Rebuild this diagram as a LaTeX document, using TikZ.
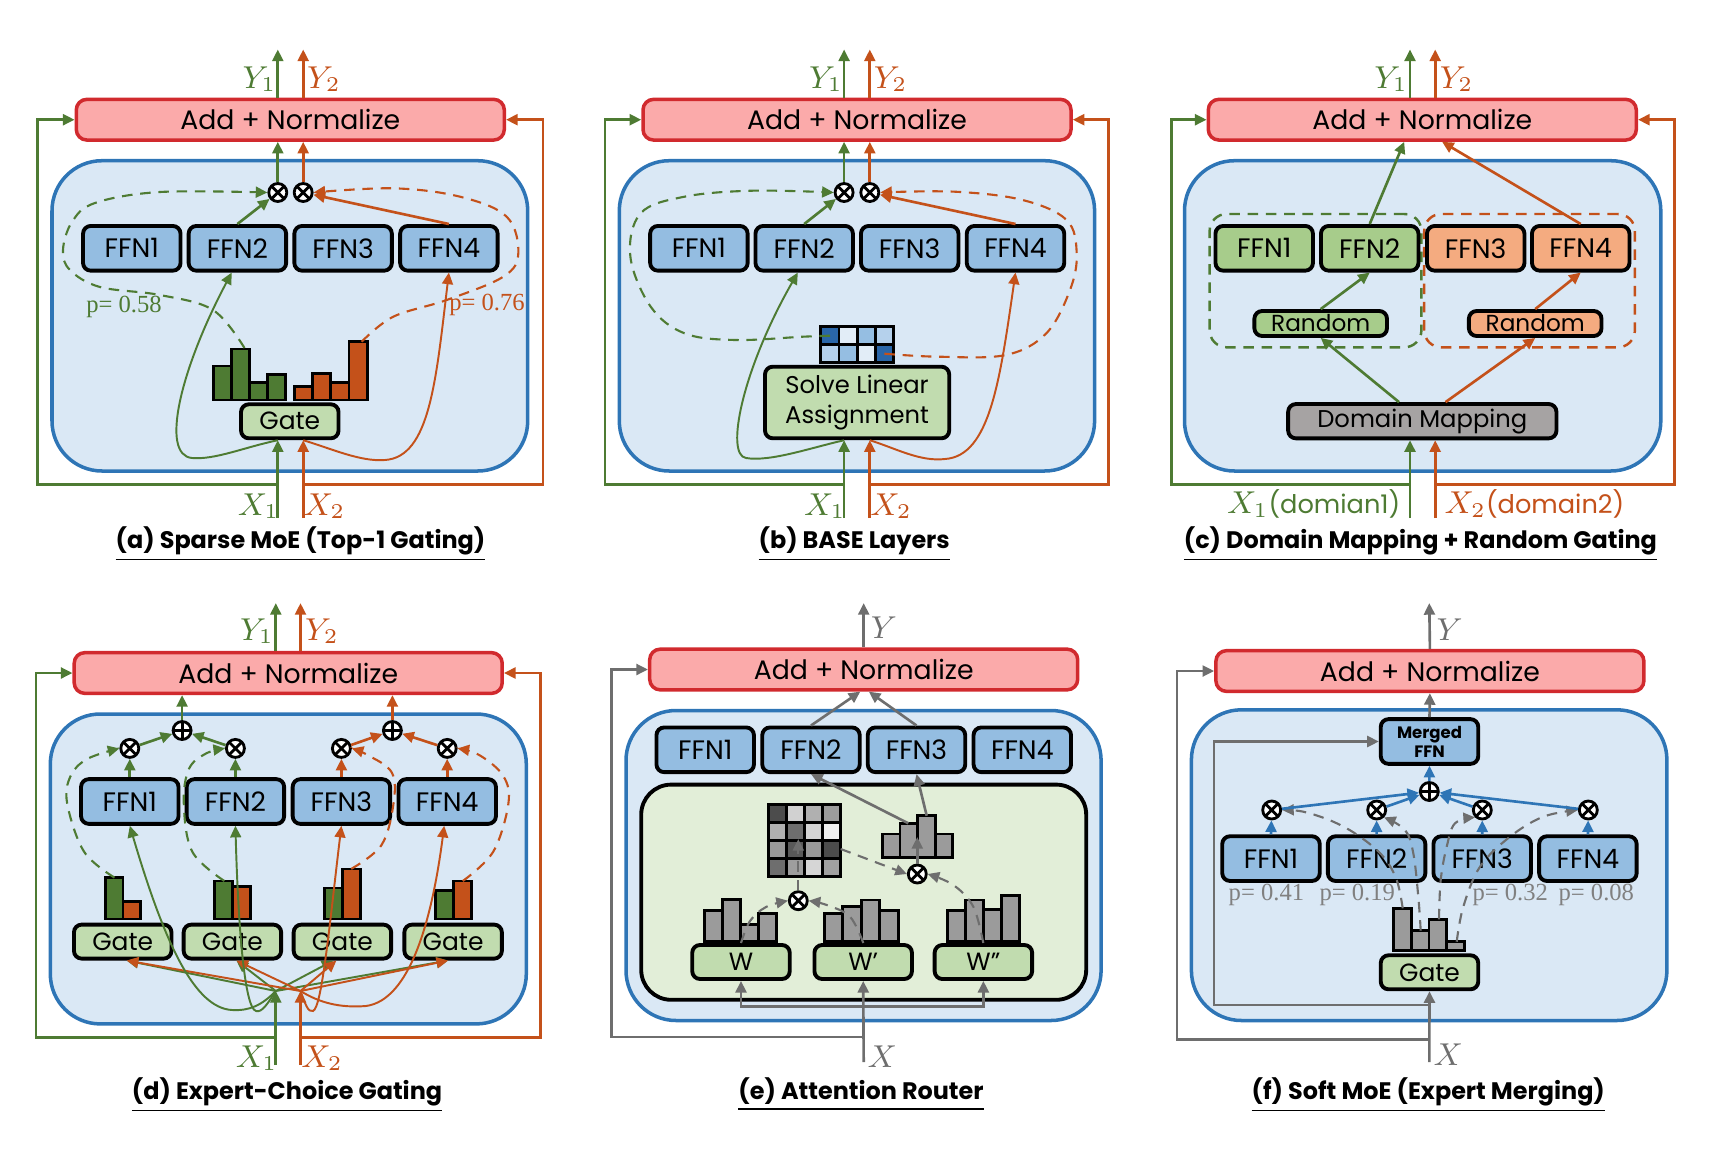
\documentclass[tikz,border=0pt]{standalone}
\usepackage[no-math]{fontspec}
\setmainfont{Poppins}
\newfontfamily\pfont{Liberation Serif}
\usetikzlibrary{arrows.meta,calc}
\definecolor{normfill}{HTML}{FBAAAA}
\definecolor{normline}{HTML}{D12A2E}
\definecolor{moefill}{HTML}{DAE8F5}
\definecolor{moeline}{HTML}{2E75B6}
\definecolor{ffnfill}{HTML}{94BDE1}
\definecolor{gatefill}{HTML}{C1DCAF}
\definecolor{tokgreen}{HTML}{4E7B33}
\definecolor{tokorange}{HTML}{C4511A}
\definecolor{ffngreen}{HTML}{A7CC8B}
\definecolor{ffnorange}{HTML}{F4AB80}
\definecolor{mapgray}{HTML}{A6A3A3}
\definecolor{wire}{HTML}{6E6E6E}
\definecolor{probgray}{HTML}{808080}
\definecolor{bargray}{HTML}{9B9B9B}
\definecolor{routefill}{HTML}{E2EED8}
\definecolor{mdark}{HTML}{2A66A8}
\definecolor{mwhite}{HTML}{E2EDF7}
\definecolor{mlight}{HTML}{95BEE2}
\definecolor{mpale}{HTML}{B5D1EC}
\tikzset{
  addnorm/.style={draw=normline,fill=normfill,line width=1pt,rounded corners=3pt,minimum width=42.8mm,minimum height=4.07mm,inner sep=0pt,font=\fontsize{7.6}{8}\selectfont},
  moebox/.style={draw=moeline,fill=moefill,line width=1pt,rounded corners=5mm,inner sep=0pt},
  ffn/.style={draw=black,fill=ffnfill,line width=1.1pt,rounded corners=2.2pt,minimum width=9.75mm,minimum height=4.47mm,inner sep=0pt,font=\fontsize{7.6}{8}\selectfont},
  gate/.style={ffn,fill=gatefill,minimum height=3.4mm,font=\fontsize{7.1}{8}\selectfont},
  circ/.style={circle,draw=black,fill=white,line width=0.8pt,minimum size=1.8mm,inner sep=0pt},
  mul/.style={circ,path picture={\draw[line width=0.8pt] (path picture bounding box.north west) -- (path picture bounding box.south east) (path picture bounding box.north east) -- (path picture bounding box.south west);}},
  sum/.style={circ,path picture={\draw[line width=0.8pt] (path picture bounding box.north) -- (path picture bounding box.south) (path picture bounding box.east) -- (path picture bounding box.west);}},
  gbar/.style={draw=black,line width=0.8pt,fill=tokgreen},
  obar/.style={gbar,fill=tokorange},
  hbar/.style={gbar,fill=bargray},
  cell/.style={draw=black,line width=0.8pt},
  arr/.style={line width=0.75pt,-{Triangle[length=3.3pt,width=3.1pt]}},
  ga/.style={arr,draw=tokgreen},
  oa/.style={arr,draw=tokorange},
  wa/.style={arr,draw=wire},
  ba/.style={arr,draw=moeline},
  gc/.style={ga,line width=0.55pt},
  oc/.style={oa,line width=0.55pt},
  dsh/.style={dash pattern=on 3pt off 2.2pt,line width=0.6pt},
  gd/.style={ga,dsh},
  od/.style={oa,dsh},
  wd/.style={wa,dsh},
  grp/.style={dsh,line width=0.7pt,rounded corners=1.7mm,inner sep=0pt},
  tok/.style={inner sep=0pt,font=\fontsize{8.8}{9}\selectfont},
  prob/.style={inner sep=0pt,font=\pfont\fontsize{7}{8}\selectfont},
  captxt/.style={inner sep=0pt,anchor=base,font=\fontsize{6.8}{8}\selectfont\bfseries},
}
\begin{document}
\begin{tikzpicture}[x=0.1mm,y=-0.1mm]
\useasboundingbox (0,0) rectangle (1710,1156);

% ---------- (a) Sparse MoE ----------
\node[moebox,minimum width=47.57mm,minimum height=31.03mm] (aMoE) at (289.85,315.85) {};
\node[addnorm] (aAdd) at (290.3,119.7) {Add + Normalize};
\foreach \i/\x in {1/131.8,2/237.4,3/343.1,4/448.9}
  \node[ffn] (aF\i) at (\x,248.3) {FFN\i};
\node[mul] (aM1) at (277.8,192.5) {};
\node[mul] (aM2) at (303.2,192.5) {};
\node[gate] (aGate) at (289.8,421.3) {Gate};
\foreach \t [count=\i from 0] in {366,349,382.7,374.3}
  \draw[gbar] ({213.6+17.9*\i},400) rectangle ({231.5+17.9*\i},\t);
\foreach \t [count=\i from 0] in {386.7,373.3,382.7,341.7}
  \draw[obar] ({294.7+18.1*\i},400) rectangle ({312.8+18.1*\i},\t);
\coordinate (aPg) at (244.5,348);
\coordinate (aPo) at (361.7,341.7);
\coordinate (aX1) at (277.8,518);
\coordinate (aX2) at (303.2,518);
\coordinate (aY1) at (277.8,49.5);
\coordinate (aY2) at (303.2,49.5);
\coordinate (aLg) at (37.4,484.3);
\coordinate (aLo) at (542.9,484.3);
\draw[ga] (aX1) -- (aX1 |- aGate.south);
\draw[oa] (aX2) -- (aX2 |- aGate.south);
\draw[ga] (aX1 |- aLg) -- (aLg) |- (aAdd.west);
\draw[oa] (aX2 |- aLo) -- (aLo) |- (aAdd.east);
\draw[gc] (aX1 |- aGate.south) .. controls (245,447) and (215,460) .. (192,458) .. controls (160,455) and (180,370) .. ([xshift=-0.57mm]aF2.south);
\draw[oc] (aX2 |- aGate.south) .. controls (330,448) and (360,462) .. (385,460) .. controls (430,457) and (436,380) .. (aF4.south);
\draw[gd] plot[smooth,tension=0.6] coordinates {(aPg) (213,310) (160,295) (100,287) (70,270) (63,250) (72,222) (95,203) (160,192) (aM1.west)};
\draw[od] plot[smooth,tension=0.6] coordinates {(aPo) (393.3,316.7) (446.7,300) (503.3,276.7) (518.3,253.3) (506.7,216.7) (460,196.7) (393.3,188.3) (aM2.east)};
\draw[ga] (aF2.north) -- (aM1);
\draw[oa] (aF4.north) -- (aM2);
\draw[ga] (aM1) -- (aM1 |- aAdd.south);
\draw[oa] (aM2) -- (aM2 |- aAdd.south);
\draw[ga] (aY1 |- aAdd.north) -- (aY1);
\draw[oa] (aY2 |- aAdd.north) -- (aY2);
\node[prob,text=tokgreen] (aP1) at (124,306.7) {p= 0.58};
\node[prob,text=tokorange] (aP2) at (487,305) {p= 0.76};
\node[tok,text=tokgreen] (aY1l) at (259.5,79) {$Y_1$};
\node[tok,text=tokorange] (aY2l) at (324,79) {$Y_2$};
\node[tok,text=tokgreen] (aX1l) at (258.5,506) {$X_1$};
\node[tok,text=tokorange] (aX2l) at (324.5,506) {$X_2$};
\node[captxt] (aCap) at (300.5,548) {\underline{(a) Sparse MoE (Top-1 Gating)}};

% ---------- (b) BASE Layers ----------
\node[moebox,minimum width=47.53mm,minimum height=31.03mm] (bMoE) at (856.95,315.85) {};
\node[addnorm] (bAdd) at (857,119.7) {Add + Normalize};
\foreach \i/\x in {1/698.9,2/804.2,3/909.7,4/1015.5}
  \node[ffn] (bF\i) at (\x,248.3) {FFN\i};
\node[mul] (bM1) at (844.1,192.5) {};
\node[mul] (bM2) at (869.8,192.5) {};
\node[gate,minimum width=18.42mm,minimum height=7.16mm,align=center,font=\fontsize{6.9}{8.6}\selectfont] (bSolve) at (857.1,402.5) {Solve Linear\\Assignment};
\foreach \row [count=\r from 0] in {{mdark,mwhite,mlight,mpale},{mpale,mlight,mwhite,mdark}}
  \foreach \c [count=\k from 0] in \row
    \draw[cell,fill=\c] ({820.8+18.2*\k},{326.7+18*\r}) rectangle ++(18.2,18);
\coordinate (bPg) at (830,335.7);
\coordinate (bPo) at (884.4,353.7);
\coordinate (bX1) at (844.1,518);
\coordinate (bX2) at (869.8,518);
\coordinate (bY1) at (844.1,49.5);
\coordinate (bY2) at (869.8,49.5);
\coordinate (bLg) at (605.1,484.3);
\coordinate (bLo) at (1108.8,484.3);
\draw[ga] (bX1) -- (bX1 |- bSolve.south);
\draw[oa] (bX2) -- (bX2 |- bSolve.south);
\draw[ga] (bX1 |- bLg) -- (bLg) |- (bAdd.west);
\draw[oa] (bX2 |- bLo) -- (bLo) |- (bAdd.east);
\draw[gc] (bX1 |- bSolve.south) .. controls (810,448) and (770,462) .. (746,458) .. controls (725,455) and (742,370) .. ([xshift=-0.64mm]bF2.south);
\draw[oc] (bX2 |- bSolve.south) .. controls (895,448) and (920,462) .. (945,459) .. controls (990,456) and (1000,380) .. (bF4.south);
\draw[gd] plot[smooth,tension=0.6] coordinates {(bPg) (802.9,336.7) (735.2,340) (684.5,333.3) (650.7,306.7) (630.4,256.7) (640.6,213.3) (684.5,196.7) (752.1,190.7) (bM1.west)};
\draw[od] plot[smooth,tension=0.6] coordinates {(bPo) (938.1,356.7) (1005.7,355) (1046.3,333.3) (1070,290) (1076.7,253.3) (1066.6,220) (1022.6,200) (955,191.7) (bM2.east)};
\draw[ga] (bF2.north) -- (bM1);
\draw[oa] (bF4.north) -- (bM2);
\draw[ga] (bM1) -- (bM1 |- bAdd.south);
\draw[oa] (bM2) -- (bM2 |- bAdd.south);
\draw[ga] (bY1 |- bAdd.north) -- (bY1);
\draw[oa] (bY2 |- bAdd.north) -- (bY2);
\node[tok,text=tokgreen] (bY1l) at (825.9,79) {$Y_1$};
\node[tok,text=tokorange] (bY2l) at (890.5,79) {$Y_2$};
\node[tok,text=tokgreen] (bX1l) at (824.8,506) {$X_1$};
\node[tok,text=tokorange] (bX2l) at (891,506) {$X_2$};
\node[captxt] (bCap) at (854.2,548) {\underline{(b) BASE Layers}};

% ---------- (c) Domain Mapping + Random Gating ----------
\node[moebox,minimum width=47.63mm,minimum height=31.03mm] (cMoE) at (1422.65,315.85) {};
\node[addnorm] (cAdd) at (1422.3,119.7) {Add + Normalize};
\node[grp,draw=tokgreen,minimum width=21.18mm,minimum height=13.33mm] (cGrpG) at (1315.5,280.65) {};
\node[grp,draw=tokorange,minimum width=21.07mm,minimum height=13.33mm] (cGrpO) at (1529.55,280.65) {};
\node[ffn,fill=ffngreen] (cF1) at (1264.2,248.3) {FFN1};
\node[ffn,fill=ffngreen] (cF2) at (1369.7,248.3) {FFN2};
\node[ffn,fill=ffnorange] (cF3) at (1475.7,248.3) {FFN3};
\node[ffn,fill=ffnorange] (cF4) at (1580.7,248.3) {FFN4};
\node[ffn,fill=ffngreen,minimum width=13.26mm,minimum height=2.5mm,font=\fontsize{6.6}{7}\selectfont] (cR1) at (1320.7,323.5) {Random};
\node[ffn,fill=ffnorange,minimum width=13.26mm,minimum height=2.5mm,font=\fontsize{6.6}{7}\selectfont] (cR2) at (1535.2,323.5) {Random};
\node[ffn,fill=mapgray,minimum width=26.83mm,minimum height=3.43mm,font=\fontsize{6.9}{8}\selectfont] (cMap) at (1422.3,421.2) {Domain Mapping};
\coordinate (cX1) at (1410,518);
\coordinate (cX2) at (1435.2,518);
\coordinate (cY1) at (1410,49.5);
\coordinate (cY2) at (1435.2,49.5);
\coordinate (cLg) at (1171.7,484.3);
\coordinate (cLo) at (1674.5,484.3);
\draw[ga] (cX1) -- (cX1 |- cMap.south);
\draw[oa] (cX2) -- (cX2 |- cMap.south);
\draw[ga] (cX1 |- cLg) -- (cLg) |- (cAdd.west);
\draw[oa] (cX2 |- cLo) -- (cLo) |- (cAdd.east);
\draw[ga] ([xshift=-2.33mm]cMap.north) -- (cR1.south);
\draw[oa] ([xshift=2.32mm]cMap.north) -- (cR2.south);
\draw[ga] (cR1.north) -- (cF2.south);
\draw[oa] (cR2.north) -- (cF4.south);
\draw[ga] (cF2.north) -- ([xshift=-1.81mm]cAdd.south);
\draw[oa] (cF4.north) -- ([xshift=1.98mm]cAdd.south);
\draw[ga] (cY1 |- cAdd.north) -- (cY1);
\draw[oa] (cY2 |- cAdd.north) -- (cY2);
\node[tok,text=tokgreen] (cY1l) at (1391,79) {$Y_1$};
\node[tok,text=tokorange] (cY2l) at (1456.5,79) {$Y_2$};
\node[tok,text=tokgreen,anchor=east] (cX1l) at (1401,504) {$X_1${\fontsize{7.3}{8}\selectfont(domian1)}};
\node[tok,text=tokorange,anchor=west] (cX2l) at (1443.8,504) {$X_2${\fontsize{7.3}{8}\selectfont(domain2)}};
\node[captxt] (cCap) at (1420.4,548) {\underline{(c) Domain Mapping + Random Gating}};

% ---------- (d) Expert-Choice Gating ----------
\node[moebox,minimum width=47.6mm,minimum height=30.99mm] (dMoE) at (288.3,868.95) {};
\node[addnorm] (dAdd) at (288.2,673) {Add + Normalize};
\foreach \i/\x in {1/129.8,2/235.4,3/341.4,4/447.2} {
  \node[ffn] (dF\i) at (\x,801.5) {FFN\i};
  \node[mul] (dM\i) at (\x,748.4) {};
}
\foreach \i/\x in {1/122.7,2/232.4,3/342.4,4/453.1}
  \node[gate] (dG\i) at (\x,941.6) {Gate};
\node[sum] (dS1) at (182.1,730.5) {};
\node[sum] (dS2) at (392.4,730.5) {};
\foreach \x/\g/\o in {105.1/877.6/901.7,214.3/881/886.2,324.8/887.9/868.9,435.7/890.3/881} {
  \draw[gbar] (\x,918.9) rectangle ({\x+17.9},\g);
  \draw[obar] ({\x+17.9},918.9) rectangle ({\x+35.8},\o);
}
\coordinate (dP1) at (114.5,877.6);
\coordinate (dP2) at (224.4,881);
\coordinate (dP3) at (351.2,868.9);
\coordinate (dP4) at (462.8,881);
\coordinate (dX1) at (275.8,1065);
\coordinate (dX2) at (300.5,1065);
\coordinate (dJ1) at (275.8,991);
\coordinate (dJ2) at (300.5,991);
\coordinate (dY1) at (275.8,603.1);
\coordinate (dY2) at (300.5,603.1);
\coordinate (dLg) at (36.1,1037.7);
\coordinate (dLo) at (540.5,1037.7);
\draw[ga] (dX1) -- (dJ1);
\draw[oa] (dX2) -- (dJ2);
\draw[ga] (dX1 |- dLg) -- (dLg) |- (dAdd.west);
\draw[oa] (dX2 |- dLo) -- (dLo) |- (dAdd.east);
\foreach \i/\s in {1/0.4,2/0.4,3/-0.9,4/-0.5}
  \draw[gc] (dJ1) -- ([xshift=\s mm]dG\i.south);
\foreach \i/\s in {1/0.4,2/0.4,3/-0.6,4/-0.5}
  \draw[oc] (dJ2) -- ([xshift=\s mm]dG\i.south);
\draw[gc] (dJ1) .. controls (262,1005) and (250,1011) .. (232,1010) .. controls (195,1008) and (165,945) .. (dF1.south);
\draw[gc] (dJ1) .. controls (268,1003) and (262,1013) .. (256,1011) .. controls (244,1008) and (238,920) .. (dF2.south);
\draw[oc] (dJ2) .. controls (305,1003) and (308,1013) .. (313,1011) .. controls (322,1008) and (330,920) .. (dF3.south);
\draw[oc] (dJ2) .. controls (320,1003) and (340,1008) .. (366,1006) .. controls (410,1000) and (432,920) .. ([xshift=-0.3mm]dF4.south);
\draw[gd] plot[smooth,tension=0.6] coordinates {(dP1) (84.1,851.7) (67.2,803.5) (70.6,776) (87.5,758.8) (dM1.west)};
\draw[gd] plot[smooth,tension=0.6] coordinates {(dP2) (192.3,851.7) (183.8,803.5) (188.9,769) (205.8,753.6) (dM2.west)};
\draw[od] plot[smooth,tension=0.6] coordinates {(dP3) (381.6,844.9) (393.5,803.5) (391.8,772.5) (368.1,755.3) (dM3.east)};
\draw[od] plot[smooth,tension=0.6] coordinates {(dP4) (493.2,851.7) (508.4,803.5) (503.3,776) (479.7,755.3) (dM4.east)};
\draw[ga] (dF1.north) -- (dM1);
\draw[ga] (dF2.north) -- (dM2);
\draw[oa] (dF3.north) -- (dM3);
\draw[oa] (dF4.north) -- (dM4);
\draw[ga] (dM1) -- (dS1);
\draw[ga] (dM2) -- (dS1);
\draw[oa] (dM3) -- (dS2);
\draw[oa] (dM4) -- (dS2);
\draw[ga] (dS1) -- (dS1 |- dAdd.south);
\draw[oa] (dS2) -- (dS2 |- dAdd.south);
\draw[ga] (dY1 |- dAdd.north) -- (dY1);
\draw[oa] (dY2 |- dAdd.north) -- (dY2);
\node[tok,text=tokgreen] (dY1l) at (257,631.3) {$Y_1$};
\node[tok,text=tokorange] (dY2l) at (322,631.3) {$Y_2$};
\node[tok,text=tokgreen] (dX1l) at (256.5,1058.4) {$X_1$};
\node[tok,text=tokorange] (dX2l) at (322,1058.4) {$X_2$};
\node[captxt] (dCap) at (287,1099) {\underline{(d) Expert-Choice Gating}};

% ---------- (e) Attention Router ----------
\node[moebox,minimum width=47.51mm,minimum height=31mm] (eMoE) at (863.55,865.5) {};
\node[addnorm] (eAdd) at (863.7,669.5) {Add + Normalize};
\foreach \i/\x in {1/705.2,2/811,3/916.5,4/1022.3}
  \node[ffn] (eF\i) at (\x,749.8) {FFN\i};
\node[draw=black,fill=routefill,line width=1.1pt,rounded corners=3mm,minimum width=44.5mm,minimum height=21.52mm,inner sep=0pt] (eRoute) at (863.7,892.2) {};
\node[gate] (eW1) at (741,962) {W};
\node[gate] (eW2) at (863.2,962) {W’};
\node[gate] (eW3) at (983.4,962) {W”};
\foreach \t [count=\i from 0] in {910.3,899.3,924.1,913.7}
  \draw[hbar] ({704.1+18*\i},941.3) rectangle ({722.1+18*\i},\t);
\foreach \t [count=\i from 0] in {913.7,906.8,900,910.3}
  \draw[hbar] ({824.2+18.5*\i},941.3) rectangle ({842.7+18.5*\i},\t);
\foreach \t [count=\i from 0] in {910.3,900,909.6,895.8}
  \draw[hbar] ({947.6+18*\i},941.3) rectangle ({965.6+18*\i},\t);
\foreach \t [count=\i from 0] in {834,823.3,815.7,834}
  \draw[hbar] ({882.3+17.6*\i},857.3) rectangle ({899.9+17.6*\i},\t);
\foreach \row [count=\r from 0] in {{70,18,31,39},{31,57,17,6},{40,65,40,70},{57,38,16,37}}
  \foreach \g [count=\k from 0] in \row
    \draw[cell,fill=black!\g] ({768.4+18.1*\k},{804.2+18.1*\r}) rectangle ++(18.1,18.1);
\node[mul] (eM1) at (798.3,900.7) {};
\node[mul] (eM2) at (917.3,874) {};
\coordinate (eX) at (863.7,1062);
\coordinate (eFeed) at (863.7,1006.7);
\coordinate (eY) at (863.7,603.1);
\coordinate (eL) at (611.8,1037);
\coordinate (eP1) at (741,943);
\coordinate (eP2) at (863.3,943);
\coordinate (eP3) at (983.3,943);
\coordinate (eAttn) at (798.3,839);
\coordinate (eAttnE) at (840.7,849);
\coordinate (eR) at (917.3,837);
\coordinate (eR2) at (908.3,823.3);
\coordinate (eR3) at (926.7,815.7);
\draw[wa] (eX) -- (eW2.south);
\draw[wa] (eFeed) -| (eW1.south);
\draw[wa] (eFeed) -| (eW3.south);
\draw[wa] (eX |- eL) -- (eL) |- (eAdd.west);
\draw[wa] (eAdd.north) -- (eY);
\draw[wd] plot[smooth,tension=0.6] coordinates {(eP1) (750,921) (766,907) (eM1.west)};
\draw[wd] plot[smooth,tension=0.6] coordinates {(eP2) (850,916.7) (826.7,905) (eM1.east)};
\draw[wd] (eM1.north) -- (eAttn);
\draw[wd] (eAttnE) -- (eM2.west);
\draw[wd] plot[smooth,tension=0.6] coordinates {(eP3) (973.3,906.7) (953.3,885) (eM2.east)};
\draw[wa] (eM2.north) -- (eR);
\draw[wa] (eR2) -- (eF2.south);
\draw[wa] (eR3) -- (eF3.south);
\draw[wa] (eF2.north) -- ([xshift=-0.34mm]eAdd.south);
\draw[wa] (eF3.north) -- ([xshift=0.51mm]eAdd.south);
\node[tok,text=wire] (eYl) at (884,628) {$Y$};
\node[tok,text=wire] (eXl) at (882.3,1056.6) {$X$};
\node[captxt] (eCap) at (861,1099) {\underline{(e) Attention Router}};

% ---------- (f) Soft MoE ----------
\node[moebox,minimum width=47.55mm,minimum height=31.07mm] (fMoE) at (1429.15,865.15) {};
\node[addnorm] (fAdd) at (1429.9,671) {Add + Normalize};
\node[ffn,align=center,font=\fontsize{4.7}{5.4}\selectfont\bfseries] (fMerged) at (1429.5,741.5) {Merged\\FFN};
\node[sum] (fS) at (1429.3,791.5) {};
\foreach \i/\x/\m in {1/1271/1271.7,2/1376.6/1376.7,3/1482.2/1482.3,4/1587.9/1588.3} {
  \node[ffn] (fF\i) at (\x,858.6) {FFN\i};
  \node[mul] (fM\i) at (\m,810) {};
}
\node[gate] (fGate) at (1429.5,972.3) {Gate};
\foreach \t [count=\i from 0] in {908.3,930.7,919.3,941.7}
  \draw[hbar] ({1393.3+17.8*\i},950.3) rectangle ({1411.1+17.8*\i},\t);
\node[prob,text=probgray] (fP1) at (1266.4,894.8) {p= 0.41};
\node[prob,text=probgray] (fP2) at (1357.2,894.8) {p= 0.19};
\node[prob,text=probgray] (fP3) at (1510.2,894.8) {p= 0.32};
\node[prob,text=probgray] (fP4) at (1596.3,894.8) {p= 0.08};
\coordinate (fX) at (1429.3,1062);
\coordinate (fY) at (1429.3,603.1);
\coordinate (fL) at (1176.9,1039.4);
\coordinate (fL2) at (1214.1,1005);
\coordinate (fB1) at (1402.7,908.3);
\coordinate (fB2) at (1420.7,930.7);
\coordinate (fB3) at (1439,919.3);
\coordinate (fB4) at (1456.7,941.7);
\draw[wa] (fX) -- (fGate.south);
\draw[wa] (fX |- fL) -- (fL) |- (fAdd.west);
\draw[wa] (fX |- fL2) -- (fL2) |- (fMerged.west);
\draw[wa] (fMerged.north) -- (fAdd.south);
\draw[wa] (fAdd.north) -- (fY);
\draw[wd] plot[smooth,tension=0.6] coordinates {(fB1) (1396.7,880) (1383.3,856.7) (1360,836.7) (1333.3,821.7) (1303.3,811.7) (fM1.east)};
\draw[wd] plot[smooth,tension=0.6] coordinates {(fB2) (1418.3,896.7) (1413.3,853.3) (1405,830) (fM2.south east)};
\draw[wd] plot[smooth,tension=0.6] coordinates {(fB3) (1440.7,880) (1446.7,846.7) (1455,823.3) (fM3.south west)};
\draw[wd] plot[smooth,tension=0.6] coordinates {(fB4) (1463.3,906.7) (1480,866.7) (1510,836.7) (1543.3,816.7) (fM4.west)};
\foreach \i in {1,...,4} {
  \draw[ba] (fF\i.north) -- (fM\i);
  \draw[ba] (fM\i) -- (fS);
}
\draw[ba] (fS) -- (fMerged.south);
\node[tok,text=wire] (fYl) at (1449.6,629.6) {$Y$};
\node[tok,text=wire] (fXl) at (1448.2,1054.9) {$X$};
\node[captxt] (fCap) at (1428.3,1099) {\underline{(f) Soft MoE (Expert Merging)}};
\end{tikzpicture}
\end{document}
